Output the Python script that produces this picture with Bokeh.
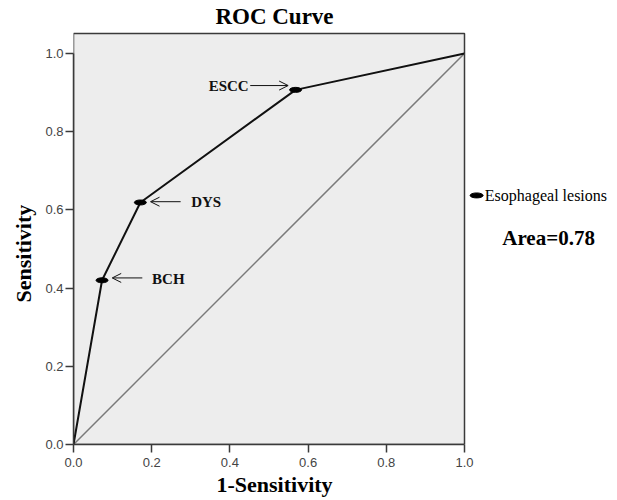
import math
from bokeh.plotting import figure
from bokeh.models import (Label, Arrow, OpenHead, FixedTicker, NumeralTickFormatter,
                          Range1d, Title)
from bokeh.embed import file_html
from bokeh.resources import INLINE

# ---- data ----
fpr = [0.0, 0.073, 0.171, 0.568, 1.0]
tpr = [0.0, 0.420, 0.619, 0.907, 1.0]
point_names = ["BCH", "DYS", "ESCC"]
point_x = [0.073, 0.171, 0.568]
point_y = [0.420, 0.619, 0.907]
ref_x = [0.0, 1.0]
ref_y = [0.0, 1.0]
ticks = [0.0, 0.2, 0.4, 0.6, 0.8, 1.0]
series_name = "Esophageal lesions"
area_text = "Area=0.78"

W, H = 617, 500
LB, RB, TB, BB = 73, 0, 0, 56
PX = 391.0  # pixels per unit
x_end = (W - LB - RB) / PX
y_end = (H - TB - BB) / PX

p = figure(width=W, height=H, output_backend="svg", toolbar_location=None,
           x_range=Range1d(0, x_end), y_range=Range1d(0, y_end),
           min_border_left=LB, min_border_right=RB, min_border_top=TB,
           min_border_bottom=BB)
p.outline_line_color = None
p.grid.visible = False
p.background_fill_color = "white"
p.border_fill_color = "white"

SERIF = "Liberation Serif"
SANS = "Liberation Sans"

# plot area box
p.quad(left=[0], right=[1.0], bottom=[0], top=[1.051], fill_color="#ededed",
       line_color="#3a3a3a", line_width=1.5)

# reference diagonal
p.line(ref_x, ref_y, line_color="#7a7a7a", line_width=1.5)
# ROC curve
p.line(fpr, tpr, line_color="#111111", line_width=2)
# points
p.ellipse(x=point_x, y=point_y, width=12 / PX, height=5 / PX, fill_color="black",
          line_color="black")

# legend marker + texts (right side)
p.ellipse(x=[1.031], y=[0.637], width=13 / PX, height=5 / PX, fill_color="black",
          line_color="black")
p.add_layout(Label(x=1.052, y=0.637, text=series_name, text_font=SERIF,
                   text_font_size="16px", text_baseline="middle", text_align="left",
                   text_color="black"))
p.add_layout(Label(x=1.215, y=0.527, text=area_text, text_font=SERIF,
                   text_font_size="21px", text_font_style="bold",
                   text_baseline="middle", text_align="center", text_color="black"))

# point annotations
ann = [
    # text, text_x, text_y, align, arrow tail x, arrow tip x, arrow y
    ("ESCC", 0.448, 0.916, "right", 0.452, 0.549, 0.918),
    ("DYS", 0.301, 0.620, "left", 0.274, 0.197, 0.621),
    ("BCH", 0.201, 0.424, "left", 0.176, 0.099, 0.426),
]
for txt, tx, ty, al, ax0, ax1, ay in ann:
    p.add_layout(Label(x=tx, y=ty, text=txt, text_font=SERIF, text_font_size="15px",
                       text_font_style="bold", text_baseline="middle", text_align=al,
                       text_color="#111111"))
    p.add_layout(Arrow(end=OpenHead(size=9, line_width=1, line_color="#111111"),
                       x_start=ax0, y_start=ay, x_end=ax1, y_end=ay,
                       line_width=1, line_color="#111111"))

# title (inside the extended frame, above the plot box)
p.add_layout(Label(x=0.514, y=1.0946, text="ROC Curve", text_font=SERIF,
                   text_font_size="23px", text_font_style="bold",
                   text_baseline="alphabetic", text_align="center", text_color="black"))

# axes
for ax in (p.xaxis[0], p.yaxis[0]):
    ax.bounds = (0, 1.0)
    ax.ticker = FixedTicker(ticks=ticks)
    ax.formatter = NumeralTickFormatter(format="0.0")
    ax.minor_tick_line_color = None
    ax.major_tick_in = 0
    ax.major_tick_out = 8
    ax.major_tick_line_color = "#3a3a3a"
    ax.major_tick_line_width = 1.5
    ax.axis_line_color = "#3a3a3a"
    ax.axis_line_width = 1.5
    ax.major_label_text_font = SANS
    ax.major_label_text_font_size = "13px"
    ax.major_label_text_color = "#444444"
p.xaxis.major_label_standoff = 5
p.yaxis.major_label_standoff = 2

# axis titles, aligned on the 0..1 span of the axes
p.add_layout(Title(text="1-Sensitivity", align="left", offset=143, standoff=0,
                   text_font=SERIF, text_font_size="22px", text_font_style="bold",
                   text_color="black"), "below")
p.add_layout(Title(text="Sensitivity", align="left", offset=142, standoff=13,
                   text_font=SERIF, text_font_size="22px", text_font_style="bold",
                   text_color="black"), "left")

open("out.html", "w").write(file_html(p, INLINE))
